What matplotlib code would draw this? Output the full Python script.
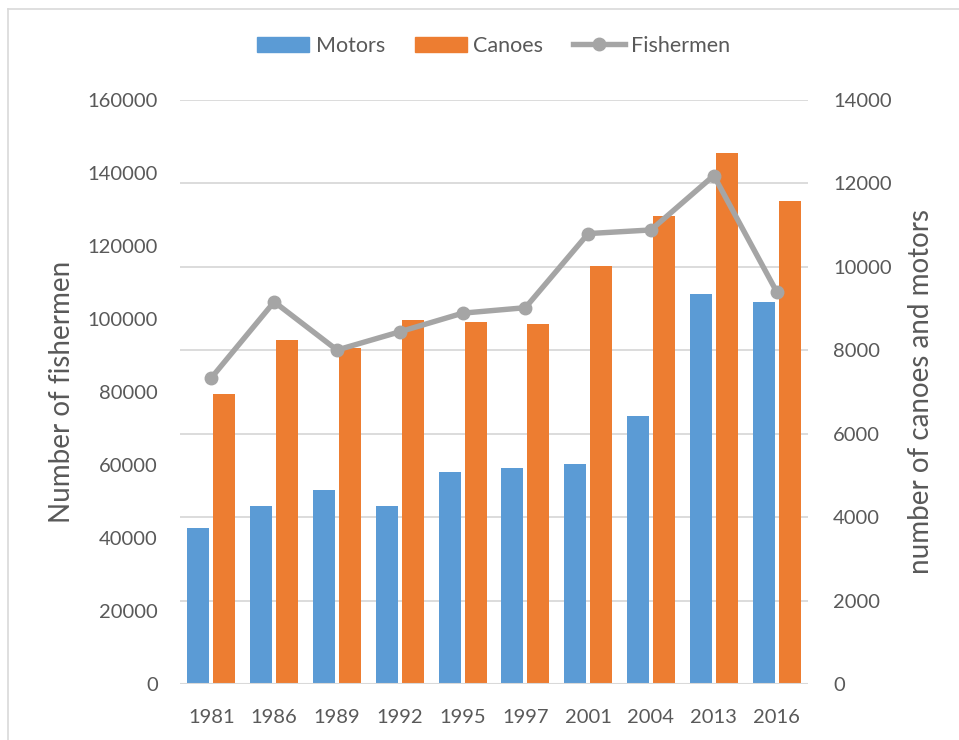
import matplotlib
matplotlib.use("Agg")
import matplotlib.pyplot as plt
from matplotlib.lines import Line2D
import numpy as np

# Survey years and counts
years = ["1981", "1986", "1989", "1992", "1995", "1997", "2001", "2004", "2013", "2016"]
motors = [3740, 4260, 4650, 4260, 5080, 5170, 5270, 6420, 9340, 9150]
canoes = [6950, 8240, 8050, 8720, 8670, 8620, 10010, 11210, 12740, 11590]
fishermen = [83900, 104700, 91500, 96500, 101600, 103100, 123400, 124400, 139300, 107500]

left_ticks = list(range(0, 160001, 20000))
right_ticks = list(range(0, 14001, 2000))

BLUE = "#5B9BD5"
ORANGE = "#ED7D31"
GREY_LINE = "#A5A5A5"
TEXT = "#595959"
GRID = "#D9D9D9"

plt.rcParams["font.family"] = ["Lato", "DejaVu Sans"]

W, H = 959, 740
fig = plt.figure(figsize=(W / 100, H / 100), dpi=100)
PX = 72 / 100  # points per pixel at this dpi

x0, x1, y0, y1 = 180, 808, 100, 684
ax_l = fig.add_axes([x0 / W, 1 - y1 / H, (x1 - x0) / W, (y1 - y0) / H])
ax_r = ax_l.twinx()

x = np.arange(len(years))
bw = 0.35
off = 0.207

# bars on the right-hand (count) axis
ax_r.bar(x - off, motors, width=bw, color=BLUE, zorder=2)
ax_r.bar(x + off, canoes, width=bw, color=ORANGE, zorder=2)
ax_r.set_ylim(0, 14000)
ax_r.set_yticks(right_ticks)
ax_r.set_yticklabels([str(v) for v in right_ticks])
ax_r.grid(axis="y", color=GRID, linewidth=1.3, zorder=0)
ax_r.set_axisbelow(True)

# fishermen line on the left axis, drawn above the bars
ax_l.set_zorder(ax_r.get_zorder() + 1)
ax_l.patch.set_visible(False)
ax_l.plot(x, fishermen, color=GREY_LINE, linewidth=3.9, marker="o",
          markersize=9, zorder=3, solid_capstyle="round")
ax_l.set_ylim(0, 160000)
ax_l.set_yticks(left_ticks)
ax_l.set_yticklabels([str(v) for v in left_ticks])
ax_l.set_xlim(-0.5, len(years) - 0.5)
ax_l.set_xticks(x)
ax_l.set_xticklabels(years)

for a in (ax_l, ax_r):
    for s in a.spines.values():
        s.set_visible(False)
    a.tick_params(axis="both", length=0, colors=TEXT, labelsize=14.5)
ax_l.tick_params(axis="y", pad=22 * PX)
ax_r.tick_params(axis="y", pad=25 * PX)
ax_l.tick_params(axis="x", pad=25 * PX)

# baseline
ax_l.axhline(0, color=GRID, linewidth=1.5, zorder=1)

ax_l.set_ylabel("Number of fishermen", fontsize=20, color=TEXT, va="center")
ax_r.set_ylabel("number of canoes and motors", fontsize=20, color=TEXT,
                va="center", rotation=90)
ax_l.yaxis.set_label_coords((62 - x0) / (x1 - x0), 0.5)
ax_r.yaxis.set_label_coords((921 - x0) / (x1 - x0), 0.5)

handles = [
    plt.Rectangle((0, 0), 1, 1, color=BLUE),
    plt.Rectangle((0, 0), 1, 1, color=ORANGE),
    Line2D([0], [0], color=GREY_LINE, linewidth=3.9, marker="o", markersize=9),
]
leg = fig.legend(handles, ["Motors", "Canoes", "Fishermen"], loc="center",
                 bbox_to_anchor=(494 / W, 1 - 46 / H), ncol=3, frameon=False,
                 fontsize=15.5, handlelength=2.4, handleheight=0.75,
                 columnspacing=1.4, handletextpad=0.3)
for t in leg.get_texts():
    t.set_color(TEXT)

# chart border
fig.add_artist(Line2D([8 / W, 1], [1 - 8.5 / H, 1 - 8.5 / H], color=GRID,
                      linewidth=1.2, transform=fig.transFigure))
fig.add_artist(Line2D([8 / W, 8 / W], [0, 1 - 8.5 / H], color=GRID,
                      linewidth=1.2, transform=fig.transFigure))

fig.savefig("out.png", dpi=100, facecolor="white")
